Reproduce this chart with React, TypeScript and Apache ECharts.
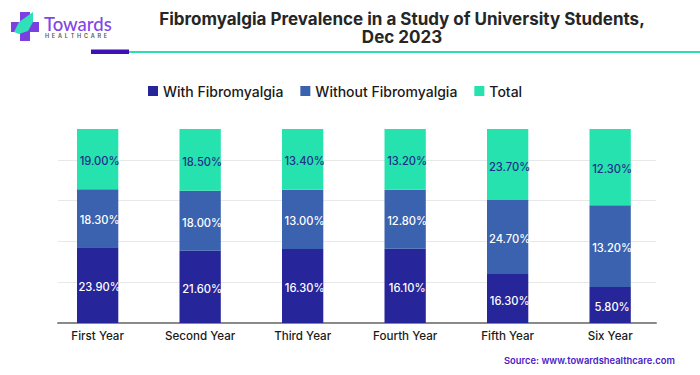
import React, { useEffect, useRef } from "react";
import * as echarts from "echarts";

const categories = ["First Year", "Second Year", "Third Year", "Fourth Year", "Fifth Year", "Six Year"];
const withFibro = [23.9, 21.6, 16.3, 16.1, 16.3, 5.8];
const withoutFibro = [18.3, 18.0, 13.0, 12.8, 24.7, 13.2];
const total = [19.0, 18.5, 13.4, 13.2, 23.7, 12.3];

const FONT = "Inter";
const STEP = 21.03;

const share = (arr: number[]) =>
  arr.map((v, i) => (v / (withFibro[i] + withoutFibro[i] + total[i])) * 100);

const series = (name: string, values: number[], color: string, labelColor: string) => ({
  name,
  type: "bar",
  stack: "all",
  xAxisIndex: 1,
  yAxisIndex: 1,
  barWidth: 41.3,
  data: share(values),
  itemStyle: { color },
  label: {
    show: true,
    position: "inside",
    offset: [2, 2],
    color: labelColor,
    fontFamily: FONT,
    fontSize: 11.2,
    fontWeight: 500,
    formatter: (p: any) => values[p.dataIndex].toFixed(2) + "%",
  },
});

export default function App() {
  const ref = useRef<HTMLDivElement>(null);
  useEffect(() => {
    const chart = echarts.init(ref.current!, null, { renderer: "svg" });
    chart.setOption({
      animation: false,
      backgroundColor: "#ffffff",
      title: {
        text: "Fibromyalgia Prevalence in a Study of University Students,\nDec 2023",
        left: 397,
        top: 5,
        textAlign: "center",
        textStyle: {
          fontFamily: FONT,
          fontSize: 17,
          fontWeight: 700,
          color: "#262626",
          lineHeight: 18,
        },
      },
      legend: {
        left: 143,
        top: 79,
        itemWidth: 10,
        itemHeight: 10,
        itemGap: 17,
        icon: "rect",
        textStyle: { fontFamily: FONT, fontSize: 14, fontWeight: 500, color: "#1a1a1a" },
        data: ["With Fibromyalgia", "Without Fibromyalgia", "Total"],
      },
      grid: [
        { left: 58, width: 598, top: 119, height: 204 },
        { left: 46.4, width: 615, top: 119, height: 204 },
      ],
      xAxis: [
        {
          type: "category",
          gridIndex: 0,
          data: categories,
          axisLine: { show: true, lineStyle: { color: "#8a8a8a", width: 2 } },
          axisTick: { show: false },
          axisLabel: { show: false },
        },
        {
          type: "category",
          gridIndex: 1,
          data: categories,
          axisLine: { show: false },
          axisTick: { show: false },
          axisLabel: { fontFamily: FONT, fontSize: 11.6, fontWeight: 500, color: "#1a1a1a", margin: 7 },
        },
      ],
      yAxis: [
        {
          type: "value",
          gridIndex: 0,
          min: 0,
          max: STEP * 5,
          interval: STEP,
          axisLine: { show: false },
          axisTick: { show: false },
          axisLabel: { show: false },
          splitLine: { show: true, showMaxLine: false, lineStyle: { color: "#e8e8e8", width: 1 } },
        },
        {
          type: "value",
          gridIndex: 1,
          min: 0,
          max: STEP * 5,
          interval: STEP,
          axisLine: { show: false },
          axisTick: { show: false },
          axisLabel: { show: false },
          splitLine: { show: false },
        },
      ],
      series: [
        series("With Fibromyalgia", withFibro, "#27259a", "#ffffff"),
        series("Without Fibromyalgia", withoutFibro, "#3a62ae", "#ffffff"),
        series("Total", total, "#26e2ae", "#1f2f8a"),
      ],
      graphic: [
        { type: "rect", shape: { x: 129, y: 51, width: 571, height: 2 }, style: { fill: "#2fdcb0" } },
        { type: "rect", shape: { x: 91, y: 49.5, width: 38, height: 4.5 }, style: { fill: "#3d12b5" } },
        { type: "rect", shape: { x: 20, y: 12, width: 10, height: 29 }, style: { fill: "#7c3fe0" } },
        { type: "rect", shape: { x: 11, y: 22, width: 28, height: 10 }, style: { fill: "#7c3fe0" } },
        {
          type: "polygon",
          shape: { points: [[14, 32], [19, 22], [33, 12], [33, 22], [28, 31], [19, 34]] },
          style: { fill: "#2fe0b8" },
        },
        {
          type: "text",
          x: 44,
          y: 14,
          style: { text: "Towards", fontFamily: "Lato", fontSize: 18.5, fontWeight: 500, fill: "#8046e6" },
        },
        {
          type: "text",
          x: 45,
          y: 33,
          style: { text: "H  E  A  L  T  H  C  A  R  E", fontFamily: "Inter", fontSize: 5.5, fontWeight: 600, fill: "#555555" },
        },
        {
          type: "text",
          x: 504,
          y: 356,
          style: { text: "Source: www.towardshealthcare.com", fontFamily: "Inter", fontSize: 9.4, fontWeight: 600, fill: "#4a20c8" },
        },
      ],
    });
    return () => chart.dispose();
  }, []);
  return <div ref={ref} style={{ position: "fixed", left: 0, top: 0, width: 700, height: 375 }} />;
}
